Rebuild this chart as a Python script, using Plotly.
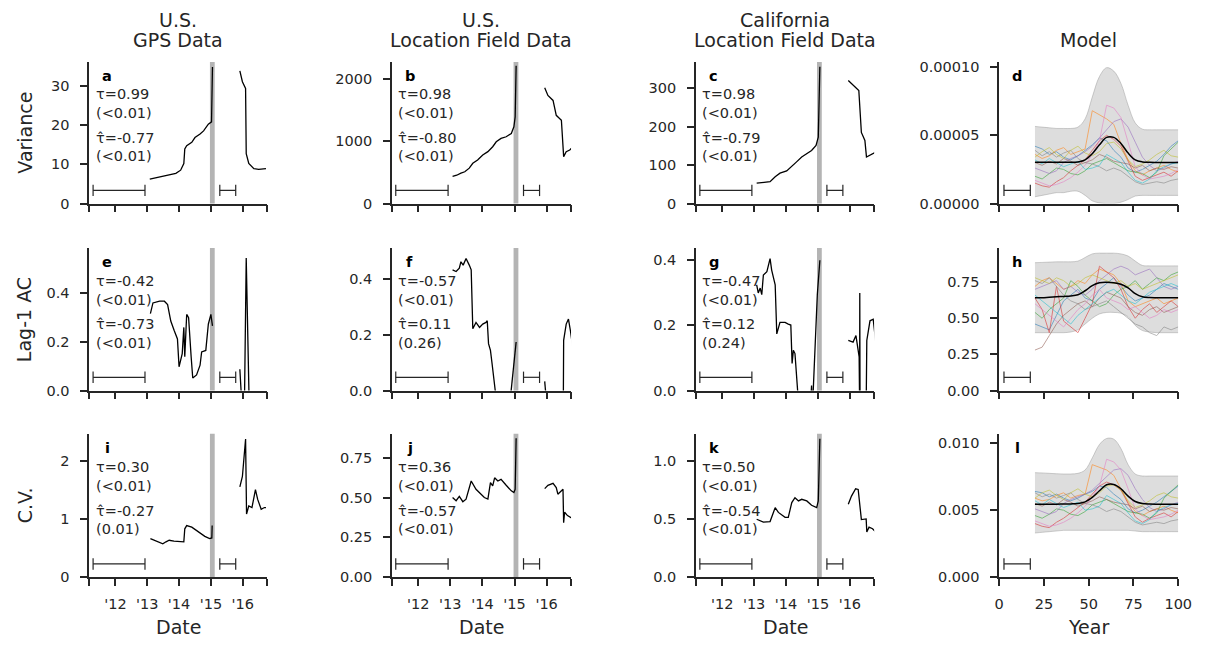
import plotly.graph_objects as go

# ------------------------------------------------------------------------------
# Empirical indicators, x in decimal years, None = gap in the record

a_x = [2013.08, 2013.39, 2013.69, 2013.9, 2014.05, 2014.15, 2014.18, 2014.24, 2014.4, 2014.5, 2014.66, 2014.77, 2014.92, 2015.02, 2015.05,
       None, 2015.91, 2015.99, 2016.09, 2016.11, 2016.19, 2016.35, 2016.5, 2016.73]
a_y = [6.25, 6.8, 7.25, 7.7, 8.5, 10.2, 13.9, 14.75, 15.6, 16.8, 17.7, 18.5, 20.2, 20.8, 34.75,
       None, 33.75, 31.0, 29.3, 12.7, 10.2, 8.9, 8.7, 8.9]

b_x = [2013.07, 2013.2, 2013.33, 2013.45, 2013.59, 2013.7, 2013.85, 2014.01, 2014.17, 2014.32, 2014.43, 2014.58, 2014.74, 2014.9, 2014.98, 2015.02, 2015.05,
       None, 2015.94, 2016.04, 2016.2, 2016.3, 2016.46, 2016.53, 2016.61, 2016.72, 2016.82]
b_y = [435, 455, 488, 510, 568, 647, 700, 780, 833, 912, 992, 1045, 1072, 1125, 1231, 1390, 2212,
       None, 1857, 1735, 1655, 1416, 1337, 753, 833, 859, 912]

c_x = [2013.08, 2013.29, 2013.5, 2013.66, 2013.81, 2014.02, 2014.18, 2014.33, 2014.49, 2014.65, 2014.8, 2014.94, 2015.01, 2015.06,
       None, 2015.95, 2016.1, 2016.28, 2016.36, 2016.47, 2016.52, 2016.63, 2016.81]
c_y = [53, 55, 57, 70, 79, 85, 96, 108.5, 121, 130, 138, 151, 173, 356,
       None, 320, 309, 294, 185, 164, 121, 126, 134]

e_x = [2013.1, 2013.18, 2013.39, 2013.54, 2013.64, 2013.74, 2013.85, 2013.95, 2014.0, 2014.1, 2014.15, 2014.18, 2014.24, 2014.3, 2014.38,
       2014.43, 2014.55, 2014.66, 2014.71, 2014.84, 2014.92, 2015.0, 2015.05,
       None, 2015.91, 2015.97, 2016.05, 2016.11, 2016.21]
e_y = [0.314, 0.358, 0.365, 0.365, 0.351, 0.284, 0.244, 0.211, 0.097, 0.151, 0.258, 0.138, 0.311, 0.298, 0.138,
       0.051, 0.064, 0.104, 0.158, 0.164, 0.271, 0.311, 0.264,
       None, 0.087, -0.05, -0.1, 0.541, -0.1]

f_x = [2013.07, 2013.18, 2013.28, 2013.33, 2013.4, 2013.49, 2013.59, 2013.65, 2013.7, 2013.8, 2013.91, 2014.01, 2014.11, 2014.15,
       2014.19, 2014.25, 2014.3, 2014.37, 2014.45,
       None, 2014.85, 2014.98, 2015.05,
       None, 2015.94, 2015.98,
       None, 2016.52, 2016.53, 2016.61, 2016.68, 2016.74, 2016.82]
f_y = [0.432, 0.426, 0.438, 0.461, 0.449, 0.473, 0.449, 0.432, 0.221, 0.244, 0.226, 0.238, 0.244, 0.25,
       0.168, 0.144, 0.097, 0.0, -0.05,
       None, -0.05, 0.097, 0.174,
       None, 0.033, -0.02,
       None, -0.05, 0.18, 0.238, 0.256, 0.215, 0.15]

g_x = [2013.08, 2013.13, 2013.19, 2013.24, 2013.29, 2013.4, 2013.5, 2013.55, 2013.66, 2013.71, 2013.81, 2013.97, 2014.07, 2014.15,
       2014.19, 2014.23, 2014.28, 2014.35, 2014.4,
       None, 2014.78, 2014.8, 2014.82,
       None, 2014.83, 2014.98, 2015.06,
       None, 2015.95, 2016.1, 2016.19, 2016.24, 2016.29, 2016.305, 2016.31, 2016.32,
       None, 2016.51, 2016.53, 2016.63, 2016.73, 2016.81]
g_y = [0.323, 0.298, 0.313, 0.293, 0.353, 0.363, 0.403, 0.368, 0.323, 0.173, 0.208, 0.208, 0.203, 0.2,
       0.083, 0.123, 0.113, 0.0, -0.05,
       None, -0.02, 0.015, -0.02,
       None, -0.05, 0.293, 0.398,
       None, 0.153, 0.148, 0.168, 0.13, 0.103, -0.05, 0.298, -0.1,
       None, -0.05, 0.153, 0.213, 0.218, 0.148]

i_x = [2013.1, 2013.29, 2013.49, 2013.59, 2013.69, 2013.84, 2014.0, 2014.15, 2014.18, 2014.24, 2014.4, 2014.6, 2014.81, 2014.96, 2015.03, 2015.04,
       None, 2015.91, 2015.99, 2016.09, 2016.12, 2016.19, 2016.29, 2016.4, 2016.47, 2016.58, 2016.68, 2016.73]
i_y = [0.665, 0.62, 0.575, 0.61, 0.637, 0.62, 0.608, 0.608, 0.834, 0.89, 0.862, 0.777, 0.704, 0.665, 0.676, 0.89,
       None, 1.555, 1.735, 2.38, 1.087, 1.228, 1.2, 1.51, 1.34, 1.17, 1.2, 1.2]

j_x = [2013.07, 2013.18, 2013.28, 2013.39, 2013.49, 2013.65, 2013.8, 2013.94, 2014.06, 2014.17, 2014.25, 2014.32, 2014.38, 2014.48,
       2014.58, 2014.74, 2014.9, 2014.98, 2015.02, 2015.05,
       None, 2015.94, 2016.04, 2016.2, 2016.3, 2016.35, 2016.46, 2016.51, 2016.53, 2016.56, 2016.65, 2016.82]
j_y = [0.50, 0.48, 0.507, 0.474, 0.49, 0.604, 0.552, 0.521, 0.50, 0.49, 0.593, 0.573, 0.624, 0.604,
       0.614, 0.577, 0.542, 0.532, 0.552, 0.872,
       None, 0.556, 0.577, 0.589, 0.563, 0.521, 0.542, 0.552, 0.342, 0.408, 0.387, 0.367]

k_x = [2013.08, 2013.18, 2013.29, 2013.5, 2013.66, 2013.76, 2013.97, 2014.07, 2014.18, 2014.28, 2014.39, 2014.49, 2014.65, 2014.8,
       2014.96, 2015.01, 2015.06,
       None, 2015.95, 2016.05, 2016.18, 2016.26, 2016.36, 2016.47, 2016.51, 2016.53, 2016.6, 2016.71, 2016.81]
k_y = [0.50, 0.489, 0.475, 0.48, 0.60, 0.559, 0.517, 0.517, 0.644, 0.686, 0.658, 0.672, 0.658, 0.621,
       0.60, 0.658, 1.195,
       None, 0.63, 0.70, 0.763, 0.757, 0.497, 0.503, 0.503, 0.39, 0.432, 0.418, 0.39]

# rolling window lengths and the transition band
window_pre = [2011.3, 2012.93]
window_post = [2015.28, 2015.78]
window_model = [2.7, 17.4]
transition = [2014.97, 2015.12]

date_range = [2011.18, 2016.76]
date_ticks = [2012, 2013, 2014, 2015, 2016]
date_labels = ["'12", "'13", "'14", "'15", "'16"]

# ------------------------------------------------------------------------------
# Model ensemble (10 runs, mean and band)

model_years = [20, 24, 28, 32, 36, 40, 44, 48, 52, 56, 60, 64, 68, 72, 76, 80, 84, 88, 92, 96, 100]
model_colors = ["#1f77b4", "#ff7f0e", "#2ca02c", "#d62728", "#9467bd",
                "#8c564b", "#e377c2", "#7f7f7f", "#bcbd22", "#17becf"]

# variance, units of 1e-5
d_runs = [
    [4.2, 4.0, 3.6, 3.8, 3.4, 3.2, 3.5, 3.9, 4.3, 4.8, 4.6, 3.9, 3.4, 2.6, 2.3, 2.5, 2.8, 3.1, 3.6, 4.2, 4.6],
    [3.6, 3.3, 3.5, 3.9, 4.1, 3.6, 3.8, 4.0, 6.8, 6.5, 6.2, 5.8, 4.4, 3.2, 2.4, 2.1, 2.4, 2.6, 2.8, 2.5, 2.3],
    [2.0, 1.8, 2.2, 2.6, 2.5, 2.2, 2.1, 2.4, 2.9, 3.1, 3.3, 3.0, 2.7, 2.4, 2.3, 2.2, 1.9, 2.3, 3.5, 4.0, 4.5],
    [1.5, 1.3, 1.2, 1.6, 1.9, 2.4, 2.8, 3.2, 3.9, 4.6, 5.0, 4.7, 4.2, 3.1, 2.0, 1.7, 1.9, 2.1, 2.3, 2.0, 2.4],
    [2.6, 2.4, 2.2, 2.4, 3.0, 3.3, 3.5, 3.8, 4.2, 4.8, 5.4, 6.0, 6.2, 5.6, 4.5, 3.4, 2.8, 2.4, 2.6, 2.9, 3.1],
    [3.0, 2.8, 3.1, 2.9, 3.3, 3.1, 2.8, 3.0, 3.2, 3.6, 3.4, 3.1, 3.0, 2.9, 2.6, 2.8, 2.4, 2.6, 2.5, 2.7, 2.6],
    [1.7, 1.5, 1.3, 1.4, 1.6, 1.9, 2.3, 2.8, 3.6, 4.6, 7.2, 7.0, 6.3, 4.5, 2.7, 2.1, 1.8, 1.9, 2.0, 2.2, 2.5],
    [3.9, 3.5, 3.8, 3.4, 3.7, 3.9, 3.3, 3.0, 2.9, 2.7, 2.4, 2.6, 2.4, 2.0, 1.6, 1.4, 1.5, 1.6, 1.5, 1.7, 1.8],
    [3.4, 3.8, 4.1, 3.6, 3.3, 3.9, 4.2, 3.7, 3.5, 3.8, 4.4, 4.5, 4.0, 3.2, 2.7, 2.9, 3.2, 3.6, 3.9, 3.5, 3.4],
    [3.2, 2.9, 3.3, 3.0, 2.7, 2.9, 3.1, 2.5, 2.6, 2.8, 3.6, 3.3, 3.0, 2.3, 1.7, 1.5, 1.8, 2.4, 2.7, 2.9, 3.0],
]
d_mean = [3.02, 3.02, 3.02, 3.02, 3.02, 3.02, 3.05, 3.2, 3.65, 4.3, 4.85, 4.85, 4.4, 3.7, 3.2, 3.05, 3.02, 3.01, 3.0, 3.0, 3.0]
d_upper = [5.65, 5.6, 5.55, 5.5, 5.5, 5.5, 5.6, 6.2, 7.8, 9.3, 9.95, 9.7, 8.8, 7.2, 5.9, 5.45, 5.4, 5.4, 5.4, 5.4, 5.4]
d_lower = [0.5, 0.6, 0.7, 0.8, 0.8, 0.9, 0.9, 0.6, 0.2, 0.05, 0.0, 0.0, 0.1, 0.3, 0.55, 0.6, 0.6, 0.6, 0.6, 0.6, 0.6]
d_scale = 1e-5

# lag-1 autocorrelation
h_runs = [
    [0.46, 0.44, 0.42, 0.52, 0.62, 0.66, 0.70, 0.64, 0.62, 0.70, 0.74, 0.78, 0.72, 0.66, 0.62, 0.64, 0.66, 0.70, 0.74, 0.72, 0.70],
    [0.72, 0.76, 0.78, 0.74, 0.70, 0.72, 0.76, 0.74, 0.80, 0.84, 0.82, 0.80, 0.74, 0.62, 0.58, 0.60, 0.62, 0.64, 0.60, 0.62, 0.64],
    [0.54, 0.50, 0.56, 0.60, 0.64, 0.76, 0.72, 0.66, 0.62, 0.58, 0.60, 0.66, 0.70, 0.72, 0.76, 0.70, 0.74, 0.78, 0.76, 0.80, 0.82],
    [0.64, 0.56, 0.40, 0.72, 0.48, 0.44, 0.40, 0.50, 0.60, 0.86, 0.82, 0.78, 0.70, 0.58, 0.50, 0.56, 0.60, 0.54, 0.58, 0.62, 0.58],
    [0.70, 0.72, 0.74, 0.76, 0.70, 0.72, 0.68, 0.66, 0.70, 0.76, 0.80, 0.84, 0.86, 0.84, 0.80, 0.82, 0.84, 0.78, 0.72, 0.70, 0.72],
    [0.28, 0.30, 0.38, 0.46, 0.52, 0.56, 0.60, 0.62, 0.58, 0.64, 0.68, 0.66, 0.64, 0.58, 0.54, 0.52, 0.56, 0.58, 0.54, 0.56, 0.58],
    [0.60, 0.56, 0.52, 0.48, 0.44, 0.50, 0.56, 0.60, 0.66, 0.70, 0.64, 0.62, 0.60, 0.56, 0.58, 0.54, 0.50, 0.52, 0.56, 0.54, 0.56],
    [0.76, 0.74, 0.78, 0.72, 0.66, 0.62, 0.60, 0.56, 0.58, 0.60, 0.62, 0.58, 0.54, 0.50, 0.46, 0.44, 0.40, 0.38, 0.44, 0.42, 0.44],
    [0.78, 0.76, 0.74, 0.78, 0.76, 0.72, 0.74, 0.78, 0.80, 0.78, 0.76, 0.74, 0.76, 0.72, 0.74, 0.70, 0.72, 0.74, 0.76, 0.78, 0.80],
    [0.66, 0.62, 0.58, 0.54, 0.50, 0.46, 0.52, 0.56, 0.60, 0.64, 0.68, 0.70, 0.66, 0.62, 0.60, 0.64, 0.68, 0.70, 0.72, 0.74, 0.72],
]
h_mean = [0.641, 0.642, 0.645, 0.648, 0.651, 0.654, 0.662, 0.69, 0.725, 0.745, 0.748, 0.745, 0.735, 0.71, 0.67, 0.648, 0.643, 0.642, 0.641, 0.641, 0.641]
h_upper = [0.884, 0.886, 0.888, 0.89, 0.89, 0.89, 0.895, 0.92, 0.945, 0.95, 0.95, 0.95, 0.945, 0.93, 0.895, 0.865, 0.862, 0.862, 0.862, 0.862, 0.862]
h_lower = [0.40, 0.40, 0.40, 0.40, 0.40, 0.405, 0.42, 0.46, 0.50, 0.53, 0.54, 0.54, 0.535, 0.51, 0.45, 0.415, 0.405, 0.40, 0.40, 0.40, 0.40]

# coefficient of variation, units of 1e-3
l_runs = [
    [6.4, 6.3, 6.0, 6.2, 5.9, 5.7, 5.9, 6.2, 6.4, 6.8, 6.7, 6.2, 5.8, 5.1, 4.8, 5.0, 5.3, 5.6, 6.0, 6.4, 6.8],
    [5.9, 5.7, 5.8, 6.1, 6.3, 5.9, 6.1, 6.2, 8.4, 8.2, 8.0, 7.6, 6.6, 5.6, 4.9, 4.6, 4.9, 5.1, 5.3, 5.0, 4.8],
    [4.6, 4.4, 4.7, 5.1, 5.0, 4.7, 4.6, 4.9, 5.4, 5.6, 5.8, 5.5, 5.2, 4.9, 4.8, 4.7, 4.4, 4.8, 5.9, 6.4, 6.9],
    [4.0, 3.8, 3.7, 4.1, 4.4, 4.8, 5.2, 5.6, 6.2, 6.8, 7.1, 6.9, 6.5, 5.5, 4.5, 4.1, 4.4, 4.6, 4.8, 4.5, 4.9],
    [5.1, 4.9, 4.7, 4.9, 5.5, 5.8, 6.0, 6.2, 6.5, 7.0, 7.5, 8.0, 8.1, 7.6, 6.6, 5.8, 5.2, 4.9, 5.1, 5.4, 5.6],
    [5.5, 5.3, 5.6, 5.4, 5.8, 5.6, 5.3, 5.5, 5.7, 6.0, 5.8, 5.6, 5.5, 5.4, 5.1, 5.3, 4.9, 5.1, 5.0, 5.2, 5.1],
    [4.2, 4.0, 3.8, 3.9, 4.1, 4.4, 4.8, 5.3, 6.0, 6.8, 8.8, 8.6, 8.0, 6.6, 5.1, 4.6, 4.3, 4.4, 4.5, 4.7, 5.0],
    [6.3, 6.0, 6.2, 5.9, 6.1, 6.3, 5.8, 5.5, 5.4, 5.2, 4.9, 5.1, 4.9, 4.5, 4.1, 3.9, 4.0, 4.1, 4.0, 4.2, 4.3],
    [5.9, 6.3, 6.5, 6.1, 5.8, 6.3, 6.6, 6.2, 6.0, 6.3, 6.8, 6.9, 6.5, 5.7, 5.2, 5.4, 5.7, 6.1, 6.3, 6.0, 5.9],
    [5.7, 5.4, 5.8, 5.5, 5.2, 5.4, 5.6, 5.0, 5.1, 5.3, 6.1, 5.8, 5.5, 4.8, 4.2, 4.0, 4.3, 4.9, 5.2, 5.4, 5.5],
]
l_mean = [5.45, 5.45, 5.45, 5.45, 5.46, 5.47, 5.5, 5.62, 5.95, 6.45, 6.9, 6.92, 6.6, 6.05, 5.65, 5.5, 5.46, 5.45, 5.45, 5.45, 5.45]
l_upper = [7.8, 7.78, 7.75, 7.72, 7.7, 7.7, 7.75, 8.0, 8.9, 9.9, 10.35, 10.3, 9.6, 8.4, 7.7, 7.55, 7.55, 7.55, 7.55, 7.55, 7.55]
l_lower = [3.3, 3.35, 3.4, 3.45, 3.5, 3.5, 3.5, 3.5, 3.5, 3.5, 3.5, 3.5, 3.5, 3.5, 3.45, 3.4, 3.4, 3.4, 3.4, 3.4, 3.4]
l_scale = 1e-3

# ------------------------------------------------------------------------------
# Panel specs: letter, series, y range, y ticks, tick format, tau texts

panels = [
    ("a", a_x, a_y, [0, 36], [0, 10, 20, 30], "d", ("τ=0.99", "(<0.01)", "τ̂=-0.77", "(<0.01)")),
    ("b", b_x, b_y, [0, 2270], [0, 1000, 2000], "d", ("τ=0.98", "(<0.01)", "τ̂=-0.80", "(<0.01)")),
    ("c", c_x, c_y, [0, 368], [0, 100, 200, 300], "d", ("τ=0.98", "(<0.01)", "τ̂=-0.79", "(<0.01)")),
    ("d", None, None, [0, 1.036e-4], [0, 5e-5, 1e-4], ".5f", None),
    ("e", e_x, e_y, [0, 0.582], [0, 0.2, 0.4], ".1f", ("τ=-0.42", "(<0.01)", "τ̂=-0.73", "(<0.01)")),
    ("f", f_x, f_y, [0, 0.51], [0, 0.2, 0.4], ".1f", ("τ=-0.57", "(<0.01)", "τ̂=0.11", "(0.26)")),
    ("g", g_x, g_y, [0, 0.435], [0, 0.2, 0.4], ".1f", ("τ=-0.47", "(<0.01)", "τ̂=0.12", "(0.24)")),
    ("h", None, None, [0, 0.985], [0, 0.25, 0.5, 0.75], ".2f", None),
    ("i", i_x, i_y, [0, 2.47], [0, 1, 2], "d", ("τ=0.30", "(<0.01)", "τ̂=-0.27", "(0.01)")),
    ("j", j_x, j_y, [0, 0.9], [0, 0.25, 0.5, 0.75], ".2f", ("τ=0.36", "(<0.01)", "τ̂=-0.57", "(<0.01)")),
    ("k", k_x, k_y, [0, 1.237], [0, 0.5, 1.0], ".1f", ("τ=0.50", "(<0.01)", "τ̂=-0.54", "(<0.01)")),
    ("l", None, None, [0, 0.0107], [0, 0.005, 0.01], ".3f", None),
]
models = {3: (d_runs, d_mean, d_upper, d_lower, d_scale),
          7: (h_runs, h_mean, h_upper, h_lower, 1.0),
          11: (l_runs, l_mean, l_upper, l_lower, l_scale)}

col_titles = [("U.S.", "GPS Data"), ("U.S.", "Location Field Data"),
              ("California", "Location Field Data"), (None, "Model")]
row_titles = ["Variance", "Lag-1 AC", "C.V."]

# ------------------------------------------------------------------------------
# Page geometry: the browser page keeps its default 8px body margin, so the
# figure is 16px smaller than the 1216x646 window and everything is placed
# in window pixels through px()/py().

WIN_W, WIN_H, PAGE_MARGIN = 1216, 646, 8
FIG_W, FIG_H = WIN_W - 2 * PAGE_MARGIN, WIN_H - 2 * PAGE_MARGIN


def px(x):
    return (x - PAGE_MARGIN) / FIG_W


def py(y):
    return 1 - (y - PAGE_MARGIN) / FIG_H


col_px = [(85.5, 266), (393, 575), (702, 883), (1010, 1192)]
row_px = [(60, 204), (249.3, 394.3), (438.3, 584.3)]
col_dom = [(px(a), px(b)) for a, b in col_px]
row_dom = [(py(b), py(a)) for a, b in row_px]

FONT = "DejaVu Sans"
INK = "#262626"

# ------------------------------------------------------------------------------

fig = go.Figure()
annotations = []
shapes = []

for p, (letter, xs, ys, yr, yt, yfmt, taus) in enumerate(panels):
    r, c = divmod(p, 4)
    sfx = "" if p == 0 else str(p + 1)
    xa, ya = "x" + sfx, "y" + sfx
    is_model = c == 3

    if is_model:
        runs, mean, upper, lower, s = models[p]
        fig.add_trace(go.Scatter(x=model_years, y=[v * s for v in lower], mode="lines",
                                 line=dict(color="rgba(150,150,150,0.45)", width=1, shape="spline"),
                                 xaxis=xa, yaxis=ya, showlegend=False, hoverinfo="skip"))
        fig.add_trace(go.Scatter(x=model_years, y=[v * s for v in upper], mode="lines", fill="tonexty",
                                 fillcolor="rgba(150,150,150,0.32)",
                                 line=dict(color="rgba(150,150,150,0.45)", width=1, shape="spline"),
                                 xaxis=xa, yaxis=ya, showlegend=False, hoverinfo="skip"))
        for run, col in zip(runs, model_colors):
            fig.add_trace(go.Scatter(x=model_years, y=[v * s for v in run], mode="lines",
                                     line=dict(color=col, width=1), opacity=0.55,
                                     xaxis=xa, yaxis=ya, showlegend=False))
        fig.add_trace(go.Scatter(x=model_years, y=[v * s for v in mean], mode="lines",
                                 line=dict(color="black", width=1.5, shape="spline"),
                                 xaxis=xa, yaxis=ya, showlegend=False))
        wins = [window_model]
    else:
        fig.add_trace(go.Scatter(x=xs, y=ys, mode="lines", line=dict(color="black", width=1.3),
                                 xaxis=xa, yaxis=ya, showlegend=False))
        shapes.append(dict(type="rect", xref=xa, yref=ya + " domain", x0=transition[0], x1=transition[1],
                           y0=0, y1=1, fillcolor="#b4b4b4", line_width=0, layer="below"))
        wins = [window_pre, window_post]

    # window-length bars
    for w in wins:
        shapes.append(dict(type="line", xref=xa, yref=ya + " domain", x0=w[0], x1=w[1], y0=0.093, y1=0.093,
                           line=dict(color=INK, width=1.2)))
        for xv in w:
            shapes.append(dict(type="line", xref=xa, yref=ya + " domain", x0=xv, x1=xv, y0=0.053, y1=0.133,
                               line=dict(color=INK, width=1.2)))

    # axes
    axis_style = dict(showline=True, linecolor=INK, linewidth=1.6, ticks="outside", ticklen=7,
                      tickwidth=1.6, tickcolor=INK, showgrid=False, zeroline=False,
                      tickfont=dict(family=FONT, size=14.5, color=INK))
    if is_model:
        xaxis = dict(range=[0, 100], tickvals=[0, 25, 50, 75, 100])
    else:
        xaxis = dict(range=date_range, tickvals=[date_range[0]] + date_ticks + [date_range[1]],
                     ticktext=[""] + date_labels + [""])
    xaxis.update(axis_style, domain=col_dom[c], anchor=ya, showticklabels=(r == 2), ticklabelstandoff=6)
    yaxis = dict(axis_style, range=yr, tickvals=yt, tickformat=yfmt, domain=row_dom[r], anchor=xa,
                 ticklabelstandoff=8)
    fig.update_layout({"xaxis" + sfx: xaxis, "yaxis" + sfx: yaxis})

    # panel letter and Kendall tau texts
    annotations.append(dict(xref=xa + " domain", yref=ya + " domain", x=0.1, y=0.903, text="<b>%s</b>" % letter,
                            showarrow=False, xanchor="center", yanchor="middle",
                            font=dict(family=FONT, size=14.5, color="black")))
    if taus:
        for txt, yy in zip(taus, [0.771, 0.639, 0.465, 0.333]):
            annotations.append(dict(xref=xa + " domain", yref=ya + " domain", x=0.025, y=yy, text=txt,
                                    showarrow=False, xanchor="left", yanchor="middle",
                                    font=dict(family=FONT, size=14.5, color=INK)))

# column titles
for (top, bottom), (x0, x1) in zip(col_titles, col_dom):
    xc = (x0 + x1) / 2
    if top:
        annotations.append(dict(xref="paper", yref="paper", x=xc, y=py(17), text=top, showarrow=False,
                                xanchor="center", yanchor="middle", font=dict(family=FONT, size=19, color=INK)))
    annotations.append(dict(xref="paper", yref="paper", x=xc, y=py(38), text=bottom, showarrow=False,
                            xanchor="center", yanchor="middle", font=dict(family=FONT, size=19, color=INK)))

# row titles
for title, (y0, y1) in zip(row_titles, row_dom):
    annotations.append(dict(xref="paper", yref="paper", x=px(20), y=(y0 + y1) / 2, text=title,
                            showarrow=False, textangle=-90, xanchor="center", yanchor="middle",
                            font=dict(family=FONT, size=19, color=INK)))

# x titles
for c, (x0, x1) in enumerate(col_dom):
    annotations.append(dict(xref="paper", yref="paper", x=(x0 + x1) / 2, y=py(635),
                            text="Year" if c == 3 else "Date", showarrow=False,
                            xanchor="center", yanchor="middle",
                            font=dict(family=FONT, size=19, color=INK)))

fig.update_layout(width=FIG_W, height=FIG_H, margin=dict(l=0, r=0, t=0, b=0),
                  paper_bgcolor="white", plot_bgcolor="white",
                  annotations=annotations, shapes=shapes,
                  font=dict(family=FONT, color=INK))

fig.write_html("out.html", config={"displayModeBar": False})
